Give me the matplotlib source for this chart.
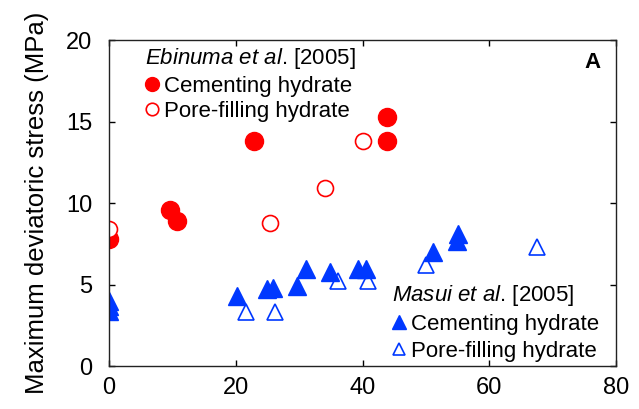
import matplotlib
matplotlib.use("Agg")
import matplotlib.pyplot as plt
from matplotlib.lines import Line2D

plt.rcParams['font.family'] = ['Liberation Sans', 'DejaVu Sans']
plt.rcParams['mathtext.fontset'] = 'custom'
plt.rcParams['mathtext.rm'] = 'Liberation Sans'
plt.rcParams['mathtext.it'] = 'Liberation Sans:italic'

# Ebinuma et al. [2005]
ebi_cem_x = [0, 9.6, 10.8, 22.8, 43.8, 43.8]
ebi_cem_y = [7.8, 9.6, 8.9, 13.8, 15.3, 13.8]
ebi_pore_x = [0, 25.4, 34.1, 40.1]
ebi_pore_y = [8.4, 8.8, 10.9, 13.8]

# Masui et al. [2005]
mas_cem_x = [0, 0, 0, 20.2, 24.9, 25.9, 29.7, 31.1, 34.9, 39.3, 40.6, 51.2, 54.9, 55.1]
mas_cem_y = [3.4, 3.7, 4.0, 4.3, 4.7, 4.8, 4.9, 5.95, 5.75, 5.95, 5.95, 7.0, 7.7, 8.1]
mas_pore_x = [21.6, 26.2, 36.2, 40.9, 50.0, 67.6]
mas_pore_y = [3.3, 3.3, 5.2, 5.2, 6.2, 7.3]

red = '#ff0000'
blue = '#0038ff'

fig = plt.figure(figsize=(6.39, 4.09), dpi=100)
ax = fig.add_axes([0.1706, 0.105, 0.7934, 0.797])

ax.plot(ebi_cem_x, ebi_cem_y, 'o', ms=13, color=red, mec=red, ls='none')
ax.plot(ebi_pore_x, ebi_pore_y, 'o', ms=11.5, mfc='white', mec=red, mew=1.2, ls='none')
ax.plot(mas_pore_x, mas_pore_y, '^', ms=12, mfc='none', mec=blue, mew=1.2, ls='none')
ax.plot(mas_cem_x, mas_cem_y, '^', ms=13, color=blue, ls='none')

ax.set_xlim(0, 80)
ax.set_ylim(0, 20)
ax.set_xticks([0, 20, 40, 60, 80])
ax.set_yticks([0, 5, 10, 15, 20])
ax.tick_params(direction='in', top=True, right=True, length=4, width=1,
               labelsize=17)
ax.tick_params(axis='x', pad=8)
ax.tick_params(axis='y', pad=12)
for s in ax.spines.values():
    s.set_linewidth(1)
    s.set_color('#222222')

ax.set_ylabel('Maximum deviatoric stress (MPa)', fontsize=18.5, labelpad=12)

ax.text(0.97, 0.93, 'A', transform=ax.transAxes, fontsize=16,
        fontweight='bold', ha='right', va='center')

h1 = [Line2D([], [], marker='o', ls='none', ms=10, color=red),
      Line2D([], [], marker='o', ls='none', ms=9, mfc='white', mec=red, mew=1.2)]
leg1 = ax.legend(h1, ['Cementing hydrate', 'Pore-filling hydrate'],
                 title=r'$\mathit{Ebinuma\ et\ al}$. [2005]',
                 loc='upper left', bbox_to_anchor=(0.062, 0.995),
                 frameon=False, fontsize=16, title_fontsize=16,
                 handlelength=0.6, handletextpad=0.25, labelspacing=0.2,
                 borderpad=0.2, borderaxespad=0, alignment='left')
ax.add_artist(leg1)

h2 = [Line2D([], [], marker='^', ls='none', ms=10, color=blue),
      Line2D([], [], marker='^', ls='none', ms=9, mfc='none', mec=blue, mew=1.2)]
ax.legend(h2, ['Cementing hydrate', 'Pore-filling hydrate'],
          title=r'$\mathit{Masui\ et\ al}$. [2005]',
          loc='lower left', bbox_to_anchor=(0.55, 0.0),
          frameon=False, fontsize=16, title_fontsize=16,
          handlelength=0.6, handletextpad=0.25, labelspacing=0.25,
          borderpad=0.2, borderaxespad=0, alignment='left')

fig.savefig('out.png', dpi=100)
